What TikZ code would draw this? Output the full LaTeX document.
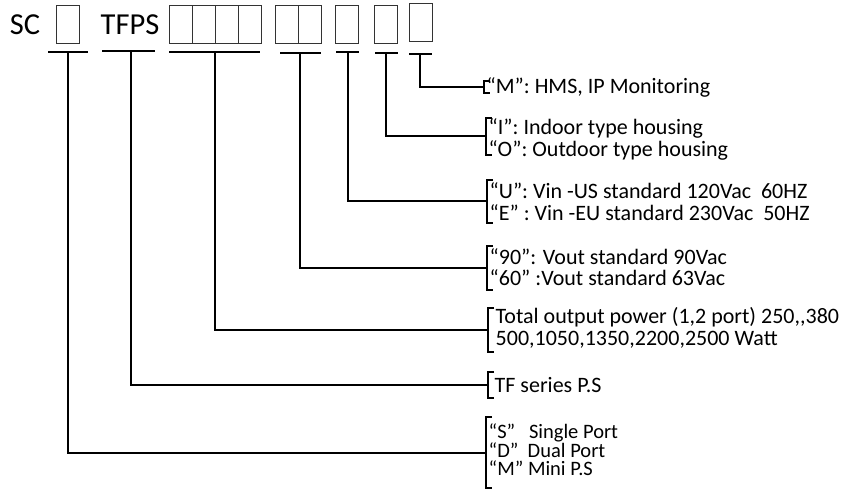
\documentclass[tikz,border=0pt]{standalone}
\usepackage{fontspec}
\setmainfont{Carlito}
\usetikzlibrary{positioning,calc}

\begin{document}
\begin{tikzpicture}[
    x=1pt, y=-1pt,
    font=\fontsize{22}{24}\selectfont,
    big/.style={font=\fontsize{30.5}{32}\selectfont, inner sep=0pt},
    digit/.style={draw=black!80, line width=0.9pt, outer sep=0pt, inner sep=0pt, minimum width=23pt, minimum height=38pt},
    bar/.style={line width=1.7pt},
    link/.style={line width=1.2pt},
    brk/.style={line width=1.2pt},
    txt/.style={anchor=west, inner sep=0.5pt},
  ]
    \useasboundingbox (0,0) rectangle (843,490);

    % ---- 型号 ----
    \node[big] (sc) at (25,25) {SC};
    \node[digit] (d1) at (67.5,24) {};
    \node[big] (tfps) at (130,25) {TFPS};
    \node[digit] (p1) at (180.5,24) {};
    \node[digit, right=0pt of p1] (p2) {};
    \node[digit, right=0pt of p2] (p3) {};
    \node[digit, right=0pt of p3] (p4) {};
    \node[digit] (v1) at (286.5,24) {};
    \node[digit, right=0pt of v1] (v2) {};
    \node[digit] (i1) at (347,24) {};
    \node[digit] (h1) at (385.5,24) {};
    \node[digit] (m1) at (420.5,22) {};

    % ---- 下划线 ----
    \draw[bar] (48,52) -- (88,52);
    \draw[bar] (102,51) -- (155,51);
    \draw[bar] (169,52) -- (260,52);
    \draw[bar] (280,53) -- (321,53);
    \draw[bar] (336,52) -- (359,52);
    \draw[bar] (375,53) -- (398,53);
    \draw[bar] (409,54) -- (432,54);
    \coordinate (u1) at (68,52);
    \coordinate (u2) at (131,51);
    \coordinate (u3) at (215,52);
    \coordinate (u4) at (300,53);
    \coordinate (u5) at (348,52);
    \coordinate (u6) at (386,53);
    \coordinate (u7) at (420,54);

    % ---- 括号 ----
    \coordinate (b7) at (484,87);
    \coordinate (b6) at (486,136);
    \coordinate (b5) at (487,201);
    \coordinate (b4) at (487,268);
    \coordinate (b3) at (488,330);
    \coordinate (b2) at (488,385);
    \coordinate (b1) at (486,453);
    \draw[brk] (490,81) -| (484,93) -- (490,93);
    \draw[brk] (492,118) -| (486,155) -- (492,155);
    \draw[brk] (493,180) -| (487,223) -- (493,223);
    \draw[brk] (493,246) -| (487,290) -- (493,290);
    \draw[brk] (494,308) -| (488,352) -- (494,352);
    \draw[brk] (494,372) -| (488,398) -- (494,398);
    \draw[brk] (492,417) -| (486,488) -- (492,488);

    % ---- 连线 ----
    \draw[link] (u7) |- (b7);
    \draw[link] (u6) |- (b6);
    \draw[link] (u5) |- (b5);
    \draw[link] (u4) |- (b4);
    \draw[link] (u3) |- (b3);
    \draw[link] (u2) |- (b2);
    \draw[link] (u1) |- (b1);

    % ---- 说明 ----
    \node[txt] (t7) at (486,87) {“M”: HMS, IP Monitoring};
    \node[txt] (t6a) at (488,128) {“I”: Indoor type housing};
    \node[txt] (t6b) at (488,150) {“O”: Outdoor type housing};
    \node[txt] (t5a) at (489,191) {“U”: Vin -US standard 120Vac~~60HZ};
    \node[txt] (t5b) at (489,213) {“E” : Vin -EU standard 230Vac~~50HZ};
    \node[txt] (t4a) at (489,257) {“90”: Vout standard 90Vac};
    \node[txt] (t4b) at (489,278) {“60” :Vout standard 63Vac};
    \node[txt] (t3a) at (495,317) {Total output power (1,2 port) 250,\kern0pt,380};
    \node[txt] (t3b) at (495,340) {500,1050,1350,2200,2500 Watt};
    \node[txt] (t2) at (494,385) {TF series P.S};
    \node[txt, align=left, font=\fontsize{20.5}{18.5}\selectfont] (t1) at (488,450)
      {“S”~~~Single Port\\“D”~~Dual Port\\“M”~Mini P.S};
  \end{tikzpicture}
\end{document}
